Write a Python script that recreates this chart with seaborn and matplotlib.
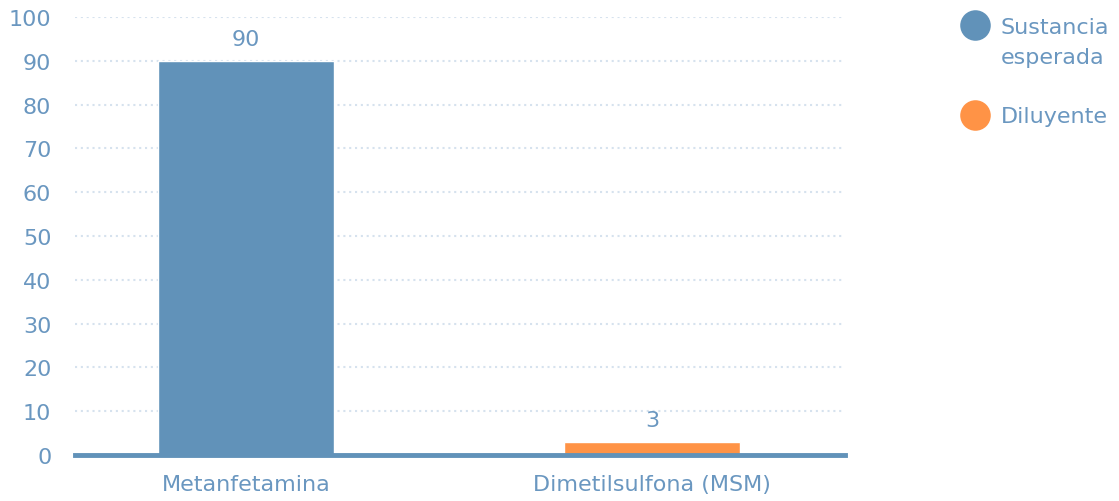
import pandas as pd
import matplotlib.pyplot as plt
import seaborn as sns
from matplotlib.lines import Line2D

sns.set_theme(style="white")
plt.rcParams['font.family'] = ['DejaVu Sans']

# data
sustancias = ['Metanfetamina', 'Dimetilsulfona (MSM)']
porcentajes = [90, 3]
tipos = ['Sustancia esperada', 'Diluyente']
etiquetas_leyenda = [['Sustancia', 'esperada'], ['Diluyente']]

colores = {'Sustancia esperada': '#6192B9', 'Diluyente': '#FF9346'}
texto = '#6A97C0'
fs = 16

df = pd.DataFrame({'sustancia': sustancias, 'valor': porcentajes, 'tipo': tipos})

fig = plt.figure(figsize=(11.19, 5.02), dpi=100)
ax = fig.add_axes([0.067, 0.0916, 0.688, 0.8725])

sns.barplot(data=df, x='sustancia', y='valor', hue='tipo', palette=colores,
            dodge=False, width=0.433, saturation=1, legend=False, ax=ax, zorder=2)

ax.set_xlim(-0.421, 1.475)
ax.set_ylim(0, 100)
ax.set_yticks(range(0, 101, 10))

# dotted grid, light blue
ax.yaxis.grid(True, linestyle=(0, (1, 1.8)), color='#D6E2EE', linewidth=1.5, zorder=0)
ax.xaxis.grid(False)
for s in ['top', 'right', 'left']:
    ax.spines[s].set_visible(False)
ax.spines['bottom'].set_color('#6192B9')
ax.spines['bottom'].set_linewidth(3.5)
ax.spines['bottom'].set_zorder(3)

ax.tick_params(axis='both', length=0, colors=texto, labelsize=fs)
ax.tick_params(axis='y', pad=17)
ax.tick_params(axis='x', pad=14)
ax.set_xlabel('')
ax.set_ylabel('')

# value labels
for i, v in enumerate(porcentajes):
    ax.text(i, v + 2.8, str(v), ha='center', va='bottom', color=texto, fontsize=fs)

# legend drawn by hand (circle aligned with first text line)
marker_y = [0.948, 0.769]
for t, lineas, y in zip(tipos, etiquetas_leyenda, marker_y):
    fig.add_artist(Line2D([0.8713], [y], marker='o', markersize=22, linestyle='',
                          markerfacecolor=colores[t], markeredgecolor='none',
                          transform=fig.transFigure))
    for k, linea in enumerate(lineas):
        fig.text(0.8945, y - 0.015 - k * 0.06, linea, ha='left', va='baseline',
                 color=texto, fontsize=fs, transform=fig.transFigure)

plt.savefig('out.png', dpi=100)
